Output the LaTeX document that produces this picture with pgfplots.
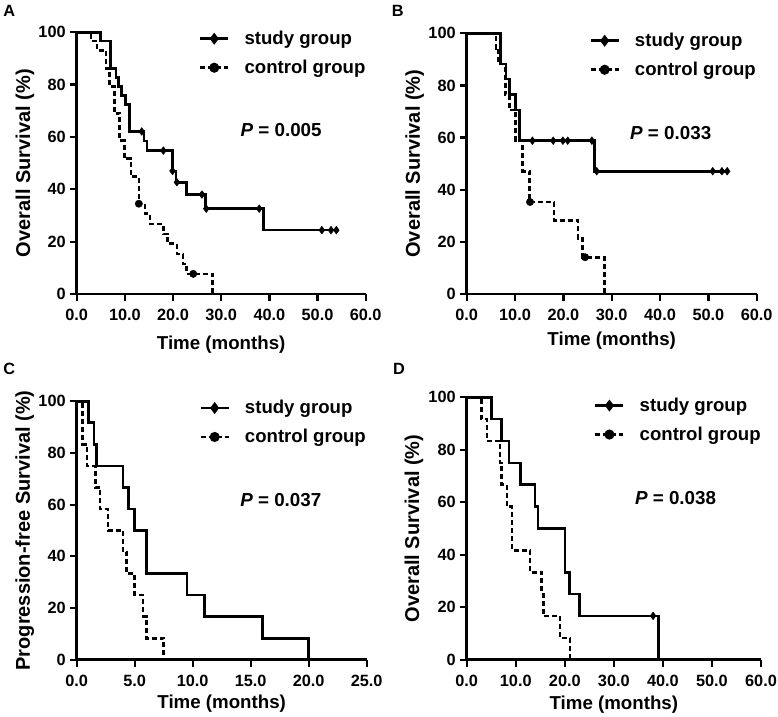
\documentclass[border=0pt]{standalone}
\usepackage{fontspec}
\setmainfont{Liberation Sans}
\usepackage{pgfplots}
\pgfplotsset{compat=1.18}

\pgfplotsset{
  km/.style={
    scale only axis,
    axis x line=bottom, axis y line=left,
    axis line style={-, line width=2.6bp},
    tick style={line width=2.3bp, black},
    tick align=outside,
    major tick length=7bp,
    ymin=0, ymax=100, ytick={0,20,...,100},
    yticklabels={0,20,40,60,80,100},
    clip=false,
    ticklabel style={font=\fontsize{16.3bp}{19bp}\selectfont\bfseries},
    xticklabel style={yshift=-5bp},
    yticklabel style={xshift=-0.5bp},
    label style={font=\fontsize{18.7bp}{22bp}\selectfont\bfseries},
    ylabel style={at={(axis description cs:-0.179,0.5)}, anchor=center,
      font=\fontsize{20bp}{23bp}\selectfont\bfseries},
    xlabel={Time (months)},
    legend cell align=left,
    legend style={draw=none, fill=none, inner sep=0pt, outer sep=0pt,
      nodes={inner sep=0pt},
      row sep=14bp, column sep=15bp,
      font=\fontsize{18.6bp}{22bp}\selectfont\bfseries},
    legend image code/.code={\draw[#1, mark repeat=2, mark phase=2] plot coordinates {(0bp,0bp) (14bp,0bp) (28bp,0bp)};},
  },
  study/.style={black, line width=2.6bp, const plot, mark=none},
  control/.style={black, line width=2.6bp, dash pattern=on 5bp off 3bp, const plot, mark=none},
  smark/.style={only marks, mark=diamond*, mark size=3.9bp, black, forget plot},
  cmark/.style={only marks, mark=*, mark size=3.7bp, black, forget plot},
}
\newcommand{\legs}{%
  \addlegendimage{black, line width=2.6bp, mark=diamond*, mark size=3.9bp}
  \addlegendentry{study group}
  \addlegendimage{black, line width=2.6bp, dash pattern=on 5bp off 3bp, mark=*, mark size=3.7bp, mark options={solid}}
  \addlegendentry{control group}
}
\newcommand{\pfont}{\fontsize{18.8bp}{22bp}\selectfont\bfseries}
\newcommand{\lfont}{\fontsize{16.3bp}{18bp}\selectfont\bfseries}

\begin{document}
\begin{tikzpicture}
\path[use as bounding box] (0,0) rectangle (778bp,717bp);

% Panel letters
\node[anchor=north west, inner sep=0pt, font=\lfont] at (3.3bp,712bp) {A};
\node[anchor=north west, inner sep=0pt, font=\lfont] at (391.7bp,712bp) {B};
\node[anchor=north west, inner sep=0pt, font=\lfont] at (3.3bp,354bp) {C};
\node[anchor=north west, inner sep=0pt, font=\lfont] at (393bp,354bp) {D};

% ---------------- A ----------------
\begin{axis}[km, at={(76.7bp,423bp)}, anchor=south west,
  width=289bp, height=261.7bp,
  xmin=0, xmax=60, xtick={0,10,...,60},
  xticklabels={0.0,10.0,20.0,30.0,40.0,50.0,60.0},
  ylabel={Overall Survival (\%)},
  xlabel style={at={(axis description cs:0.5,-0.193)}, anchor=center},
  legend style={at={(rel axis cs:0.423,1.004)}, anchor=north west}]
\legs
\addplot[study, forget plot] coordinates {(0,100)(5.0,96.6)(7.0,86.2)(8.2,82.8)(8.7,79.3)(9.3,75.9)(10.1,72.4)(11.0,62.1)(14.0,58.4)(14.6,54.8)(19.9,47.0)(20.6,42.7)(22.8,38.0)(26.7,32.6)(38.8,24.4)(53.9,24.4)};
\addplot[smark] coordinates {(13.5,62.1)(18.0,54.8)(19.9,47.0)(20.8,42.7)(26.0,38.0)(26.9,32.6)(37.9,32.6)(50.9,24.4)(52.8,24.4)(53.9,24.4)};
\addplot[control, forget plot] coordinates {(0,100)(3.0,96.6)(4.2,93.1)(6.1,86.2)(6.8,79.3)(7.8,69.0)(8.9,58.6)(9.9,51.7)(11.3,44.8)(12.9,34.5)(14.2,30.7)(15.2,26.8)(18.0,23.0)(18.9,19.2)(20.8,15.3)(22.1,11.5)(22.8,7.7)(28.2,0)};
\addplot[cmark] coordinates {(12.9,34.5)(24.2,7.7)};
\node[anchor=west, font=\pfont] at (axis cs:33.3,62.6) {\textit{P} = 0.005};
\end{axis}

% ---------------- B ----------------
\begin{axis}[km, at={(466.7bp,423bp)}, anchor=south west,
  width=290bp, height=260.7bp,
  xmin=0, xmax=60, xtick={0,10,...,60},
  xticklabels={0.0,10.0,20.0,30.0,40.0,50.0,60.0},
  ylabel={Overall Survival (\%)},
  xlabel style={at={(axis description cs:0.5,-0.18)}, anchor=center},
  legend style={at={(rel axis cs:0.423,1.0)}, anchor=north west}]
\legs
\addplot[study, forget plot] coordinates {(0,100)(7.0,88.2)(8.1,82.4)(8.8,76.5)(10.1,70.6)(10.9,58.8)(26.4,47.1)(53.9,47.1)};
\addplot[smark] coordinates {(13.6,58.8)(17.9,58.8)(19.9,58.8)(20.9,58.8)(25.9,58.8)(26.9,47.1)(50.9,47.1)(52.8,47.1)(53.9,47.1)};
\addplot[control, forget plot] coordinates {(0,100)(6.1,94.1)(6.6,88.2)(8.0,76.5)(8.8,70.6)(10.1,58.8)(11.6,47.1)(13.0,35.3)(18.1,28.2)(23.0,21.2)(24.0,14.1)(28.5,0)};
\addplot[cmark] coordinates {(13.1,35.3)(24.5,14.1)};
\node[anchor=west, font=\pfont] at (axis cs:33.1,61.9) {\textit{P} = 0.033};
\end{axis}

% ---------------- C ----------------
\begin{axis}[km, at={(76.7bp,57.3bp)}, anchor=south west,
  width=290bp, height=258.4bp,
  xmin=0, xmax=25, xtick={0,5,...,25},
  xticklabels={0.0,5.0,10.0,15.0,20.0,25.0},
  ylabel={Progression-free Survival (\%)},
  xlabel style={at={(axis description cs:0.5,-0.172)}, anchor=center},
  legend style={at={(rel axis cs:0.423,1.003)}, anchor=north west}]
\legs
\addplot[study, forget plot] coordinates {(0,100)(1.0,91.7)(1.5,83.3)(1.7,75)(4.0,66.7)(4.45,58.3)(5.0,50)(6.0,33.3)(9.5,25)(11.0,16.7)(16.0,8.3)(20.0,0)};
\addplot[control, forget plot] coordinates {(0,100)(0.5,83.3)(0.9,75)(1.6,66.7)(2.0,58.3)(2.7,50)(4.0,41.7)(4.3,33.3)(5.0,25)(5.7,16.7)(6.0,8.3)(7.5,0)};
\node[anchor=west, font=\pfont] at (axis cs:13.8,61.9) {\textit{P} = 0.037};
\end{axis}

% ---------------- D ----------------
\begin{axis}[km, at={(466.7bp,57.3bp)}, anchor=south west,
  width=294.3bp, height=262.4bp,
  xmin=0, xmax=60, xtick={0,10,...,60},
  xticklabels={0.0,10.0,20.0,30.0,40.0,50.0,60.0},
  ylabel={Overall Survival (\%)},
  xlabel style={at={(axis description cs:0.5,-0.17)}, anchor=center},
  legend style={at={(rel axis cs:0.433,0.997)}, anchor=north west}]
\legs
\addplot[study, forget plot] coordinates {(0,100)(5.1,91.7)(7.1,83.3)(8.6,75)(11.0,66.7)(13.9,58.3)(14.5,50)(20.0,33.3)(20.9,25)(23.0,16.7)(39.1,0)};
\addplot[smark] coordinates {(38.0,16.7)};
\addplot[control, forget plot] coordinates {(0,100)(3.0,91.7)(4.1,83.3)(6.8,75)(7.1,66.7)(8.2,58.3)(9.2,41.7)(12.9,33.3)(15.3,25)(15.6,16.7)(19.0,8.3)(21.1,0)};
\node[anchor=west, font=\pfont] at (axis cs:33.6,61.6) {\textit{P} = 0.038};
\end{axis}
\end{tikzpicture}
\end{document}
